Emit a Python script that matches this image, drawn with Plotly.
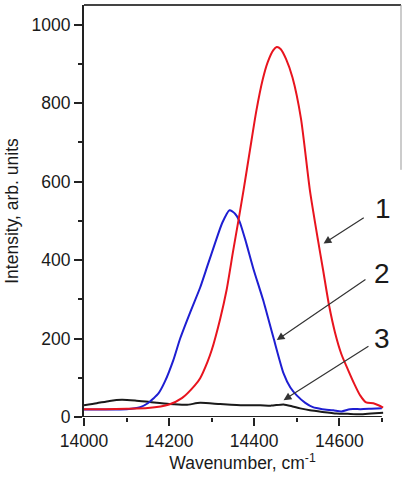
import plotly.graph_objects as go

# Curve 1 (red)
red_x = [14000, 14050, 14100, 14150, 14200, 14230, 14260, 14273, 14290, 14300, 14320, 14335,
         14350, 14363, 14375, 14390, 14405, 14420, 14432, 14445, 14453, 14462, 14475, 14490,
         14510, 14531, 14550, 14562, 14576, 14590, 14605, 14621, 14635, 14649, 14663, 14680,
         14692, 14703]
red_y = [20, 20, 21, 23, 32, 48, 80, 99, 140, 170, 250, 323,
         420, 501, 578, 680, 780, 860, 905, 935, 943, 938, 912, 865,
         760, 577, 450, 374, 284, 215, 160, 119, 85, 55, 37, 35,
         30, 24]

# Curve 2 (blue)
blue_x = [14000, 14050, 14100, 14132, 14150, 14163, 14175, 14190, 14210, 14226, 14250, 14273,
          14290, 14308, 14325, 14342, 14355, 14365, 14379, 14398, 14421, 14445, 14469, 14485,
          14500, 14520, 14538, 14560, 14586, 14605, 14625, 14650, 14675, 14700]
blue_y = [19, 19, 20, 25, 35, 47, 60, 90, 145, 200, 268, 330,
          385, 443, 495, 527, 518, 500, 452, 378, 298, 203, 111, 75,
          55, 36, 25, 20, 17, 14, 20, 20, 21, 22]

# Curve 3 (black)
black_x = [14000, 14030, 14060, 14089, 14120, 14155, 14200, 14240, 14273, 14320, 14374, 14414,
           14440, 14469, 14490, 14508, 14531, 14560, 14594, 14620, 14649, 14675, 14703]
black_y = [30, 35, 41, 44, 42, 38, 33, 31, 36, 33, 30, 30,
           29, 32, 27, 22, 17, 13, 9, 8, 7, 9, 11]

x_tick_vals = [14000, 14200, 14400, 14600]
x_tick_text = ["14000", "14200", "14400", "14600"]
y_tick_vals = [0, 200, 400, 600, 800, 1000]
curve_labels = ["1", "2", "3"]

FONT = "Liberation Sans, Arial, sans-serif"

fig = go.Figure()
fig.add_trace(go.Scatter(x=black_x, y=black_y, mode="lines",
                         line=dict(color="#1a1a1a", width=2, shape="spline", smoothing=0.6)))
fig.add_trace(go.Scatter(x=blue_x, y=blue_y, mode="lines",
                         line=dict(color="#1e1ed2", width=2, shape="spline", smoothing=0.6)))
fig.add_trace(go.Scatter(x=red_x, y=red_y, mode="lines",
                         line=dict(color="#e8141e", width=2, shape="spline", smoothing=0.6)))

# arrows: (label, head_x, head_y, tail_x, tail_y, label_x, label_y)
arrows = [
    (curve_labels[0], 14563, 442, 14661, 510, 14703, 531),
    (curve_labels[1], 14453, 196, 14665, 353, 14700, 365),
    (curve_labels[2], 14469, 43, 14672, 183, 14700, 200),
]
for lab, hx, hy, tx, ty, lx, ly in arrows:
    fig.add_annotation(x=hx, y=hy, ax=tx, ay=ty, axref="x", ayref="y", xref="x", yref="y",
                       text="", showarrow=True, arrowhead=2, arrowsize=1.3, arrowwidth=1.2,
                       arrowcolor="#333333")
    fig.add_annotation(x=lx, y=ly, xref="x", yref="y", text=lab, showarrow=False,
                       font=dict(family=FONT, size=28, color="#1a1a1a"))

# bottom axis line (ends at 14700) and frame lines
fig.add_shape(type="line", xref="x", yref="y", x0=14000, x1=14700, y0=0, y1=0,
              line=dict(color="#222222", width=2))
fig.add_shape(type="line", xref="paper", yref="paper", x0=0, x1=1, y0=1, y1=1,
              line=dict(color="#444444", width=2))
fig.add_shape(type="line", xref="paper", yref="paper", x0=1, x1=1, y0=0.6, y1=1,
              line=dict(color="#999999", width=1))

fig.update_xaxes(range=[14000, 14745], tickvals=x_tick_vals, ticktext=x_tick_text,
                 ticks="outside", ticklen=8, automargin=False,
                 tickwidth=1.5, tickcolor="#222222", showgrid=False, zeroline=False,
                 showline=False,
                 minor=dict(dtick=100, tick0=14000, ticks="outside", ticklen=4, tickwidth=1.5,
                            tickcolor="#222222", showgrid=False),
                 tickfont=dict(family=FONT, size=17.5, color="#1a1a1a"),
                 title=dict(text="Wavenumber, cm<sup>-1</sup>", standoff=2,
                            font=dict(family=FONT, size=17.5, color="#1a1a1a")))
fig.update_yaxes(range=[0, 1050], tickvals=y_tick_vals, ticks="outside", ticklen=8,
                 tickwidth=1.5, tickcolor="#222222", showgrid=False, zeroline=False,
                 showline=True, linewidth=2, linecolor="#222222", automargin=False,
                 minor=dict(dtick=100, tick0=0, ticks="outside", ticklen=4, tickwidth=1.5,
                            tickcolor="#222222", showgrid=False),
                 tickfont=dict(family=FONT, size=17.5, color="#1a1a1a"),
                 title=dict(text="Intensity, arb. units", standoff=8,
                            font=dict(family=FONT, size=17.5, color="#1a1a1a")))

fig.update_layout(width=402, height=477, showlegend=False,
                  margin=dict(l=84, r=1, t=5, b=60),
                  plot_bgcolor="white", paper_bgcolor="white")

fig.write_html("out.html", config={"displayModeBar": False},
               post_script="document.body.style.margin='0';")
